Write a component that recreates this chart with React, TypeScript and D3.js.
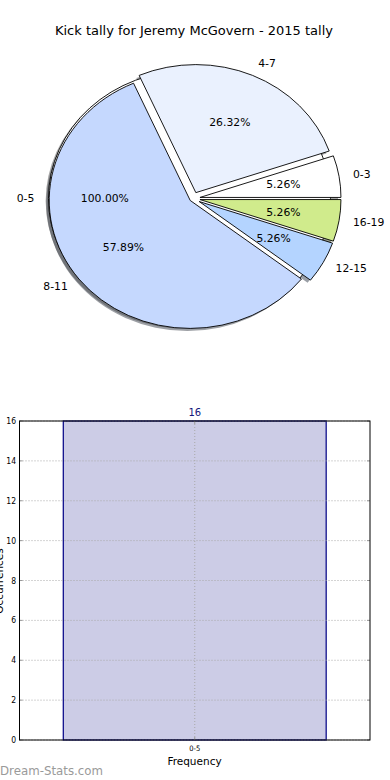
import React from "react";
import * as d3 from "d3";

const TITLE = "Kick tally for Jeremy McGovern - 2015 tally";
const pieLabels = ["0-3", "4-7", "8-11", "12-15", "16-19"];
const pieValues = [1, 5, 11, 1, 1];
const pieColors = ["#ffffff", "#eaf1fe", "#c5d8fe", "#b4d4ff", "#d0eb8c"];
const pieExplode = [0.05, 0.05, 0.025, 0.05, 0.05];

const fullLabels = ["0-5"];
const fullValues = [16];
const fullColors = ["#ffffff"];
const fullExplode = [0.025];

const barCategories = ["0-5"];
const barValues = [16];
const yTicks = [0, 2, 4, 6, 8, 10, 12, 14, 16];
const Y_LABEL = "Occurrences";
const X_LABEL = "Frequency";
const WATERMARK = "Dream-Stats.com";

const W = 390;
const H = 780;
const CX = 193;
const CY = 198.5;
const RX = 141;
const RY = 128;
const FONT = "'DejaVu Sans', sans-serif";
const COND = "'DejaVu Sans Condensed', 'DejaVu Sans', sans-serif";

function shade(c: string) {
  const r = d3.rgb(c);
  return d3.rgb(r.r * 0.3, r.g * 0.3, r.b * 0.3).toString();
}

type Wedge = { label: string; value: number; color: string; explode: number; t0: number; t1: number };

function buildWedges(labels: string[], values: number[], colors: string[], explode: number[]): Wedge[] {
  const arcs = d3.pie<number>().sort(null).startAngle(0).endAngle(2 * Math.PI)(values);
  return arcs.map((a, i) => ({
    label: labels[i],
    value: values[i],
    color: colors[i],
    explode: explode[i],
    t0: a.startAngle,
    t1: a.endAngle,
  }));
}

const unitArc = d3.arc<any>().innerRadius(0).outerRadius(1);

function wedgePath(w: Wedge) {
  // matplotlib angle (ccw from 3 o'clock) -> d3 angle (cw from 12 o'clock)
  return unitArc({ startAngle: Math.PI / 2 - w.t1, endAngle: Math.PI / 2 - w.t0 }) || "";
}

function center(w: Wedge) {
  const tm = (w.t0 + w.t1) / 2;
  return [CX + RX * w.explode * Math.cos(tm), CY - RY * w.explode * Math.sin(tm)];
}

function WedgeShape({ w, shadow }: { w: Wedge; shadow: boolean }) {
  const [x, y] = center(w);
  const dx = shadow ? -0.02 * RX : 0;
  const dy = shadow ? 0.02 * RY : 0;
  return (
    <g transform={`translate(${x + dx},${y + dy}) scale(${RX},${RY})`}>
      <path
        d={wedgePath(w)}
        fill={shadow ? shade(w.color) : w.color}
        fillOpacity={shadow ? 0.5 : 1}
        stroke={shadow ? "none" : "#000"}
        strokeWidth={shadow ? 0 : 0.9}
        vectorEffect="non-scaling-stroke"
      />
    </g>
  );
}

function WedgeTexts({ w }: { w: Wedge }) {
  const tm = (w.t0 + w.t1) / 2;
  const c = Math.cos(tm);
  const s = Math.sin(tm);
  const lx = CX + RX * (w.explode + 1.1) * c;
  const ly = CY - RY * (w.explode + 1.1) * s;
  const px = CX + RX * (w.explode + 0.6) * c;
  const py = CY - RY * (w.explode + 0.6) * s;
  const frac = (w.t1 - w.t0) / (2 * Math.PI);
  return (
    <g fontFamily={FONT} fontSize={10.8} fill="#000">
      <text x={lx} y={ly} textAnchor={c > 0 ? "start" : "end"} dominantBaseline="central">
        {w.label}
      </text>
      <text x={px} y={py} textAnchor="middle" dominantBaseline="central">
        {(frac * 100).toFixed(2) + "%"}
      </text>
    </g>
  );
}

export default function App() {
  const full = buildWedges(fullLabels, fullValues, fullColors, fullExplode);
  const main = buildWedges(pieLabels, pieValues, pieColors, pieExplode);

  // bar chart
  const left = 19.5;
  const right = 370;
  const top = 421;
  const bottom = 740;
  const x = d3.scaleBand<string>().domain(barCategories).range([left, right]).paddingInner(0.25).paddingOuter(0.125);
  const y = d3.scaleLinear().domain([0, 16]).range([bottom, top]);
  const gridColor = "#a8a8a8";
  const navy = "#14147a";

  return (
    <svg width={W} height={H} style={{ position: "absolute", left: 0, top: 0 }} xmlns="http://www.w3.org/2000/svg">
      <rect width={W} height={H} fill="#fff" />
      <text x={194} y={30} textAnchor="middle" dominantBaseline="central" fontFamily={FONT} fontSize={13}>
        {TITLE}
      </text>

      {/* shadows */}
      {full.map((w, i) => (
        <WedgeShape key={"fs" + i} w={w} shadow />
      ))}
      {main.map((w, i) => (
        <WedgeShape key={"ms" + i} w={w} shadow />
      ))}
      {/* wedges */}
      {full.map((w, i) => (
        <WedgeShape key={"fw" + i} w={w} shadow={false} />
      ))}
      {main.map((w, i) => (
        <WedgeShape key={"mw" + i} w={w} shadow={false} />
      ))}
      {full.map((w, i) => (
        <WedgeTexts key={"ft" + i} w={w} />
      ))}
      {main.map((w, i) => (
        <WedgeTexts key={"mt" + i} w={w} />
      ))}

      {/* bar chart */}
      {barCategories.map((c, i) => (
        <rect
          key={c}
          x={x(c)!}
          y={y(barValues[i])}
          width={x.bandwidth()}
          height={y(0) - y(barValues[i])}
          fill="#ccccE6"
          stroke="#10108c"
          strokeWidth={1.3}
        />
      ))}
      {yTicks.map((t) => (
        <g key={t}>
          <line x1={left} x2={right} y1={y(t)} y2={y(t)} stroke={gridColor} strokeWidth={1} strokeDasharray="1,2" />
          <line x1={left} x2={left + 3} y1={y(t)} y2={y(t)} stroke="#999" strokeWidth={1} />
          <line x1={right - 3} x2={right} y1={y(t)} y2={y(t)} stroke="#999" strokeWidth={1} />
          <text x={16} y={y(t)} textAnchor="end" dominantBaseline="central" fontFamily={COND} fontSize={8.5}>
            {t}
          </text>
        </g>
      ))}
      {barCategories.map((c) => {
        const cx = x(c)! + x.bandwidth() / 2;
        return (
          <g key={"xt" + c}>
            <line x1={cx} x2={cx} y1={top} y2={bottom} stroke={gridColor} strokeWidth={1} strokeDasharray="1,2" />
            <line x1={cx} x2={cx} y1={bottom} y2={bottom - 3} stroke="#999" />
            <line x1={cx} x2={cx} y1={top} y2={top + 3} stroke="#999" />
            <text x={cx} y={748} textAnchor="middle" dominantBaseline="central" fontFamily={COND} fontSize={7.5}>
              {c}
            </text>
          </g>
        );
      })}
      {barCategories.map((c, i) => (
        <text
          key={"bl" + c}
          x={x(c)! + x.bandwidth() / 2}
          y={412.5}
          textAnchor="middle"
          dominantBaseline="central"
          fontFamily={FONT}
          fontSize={10}
          fill={navy}
        >
          {barValues[i]}
        </text>
      ))}
      <rect x={left} y={top} width={right - left} height={bottom - top} fill="none" stroke="#000" strokeWidth={1} />
      <text x={194.5} y={761} textAnchor="middle" dominantBaseline="central" fontFamily={FONT} fontSize={10.5}>
        {X_LABEL}
      </text>
      <text transform={`translate(3,581) rotate(-90)`} textAnchor="middle" fontFamily={FONT} fontSize={10.5}>
        {Y_LABEL}
      </text>
      <text x={0} y={771} dominantBaseline="central" fontFamily={FONT} fontSize={11.8} fill="#9a9a9a">
        {WATERMARK}
      </text>
    </svg>
  );
}
